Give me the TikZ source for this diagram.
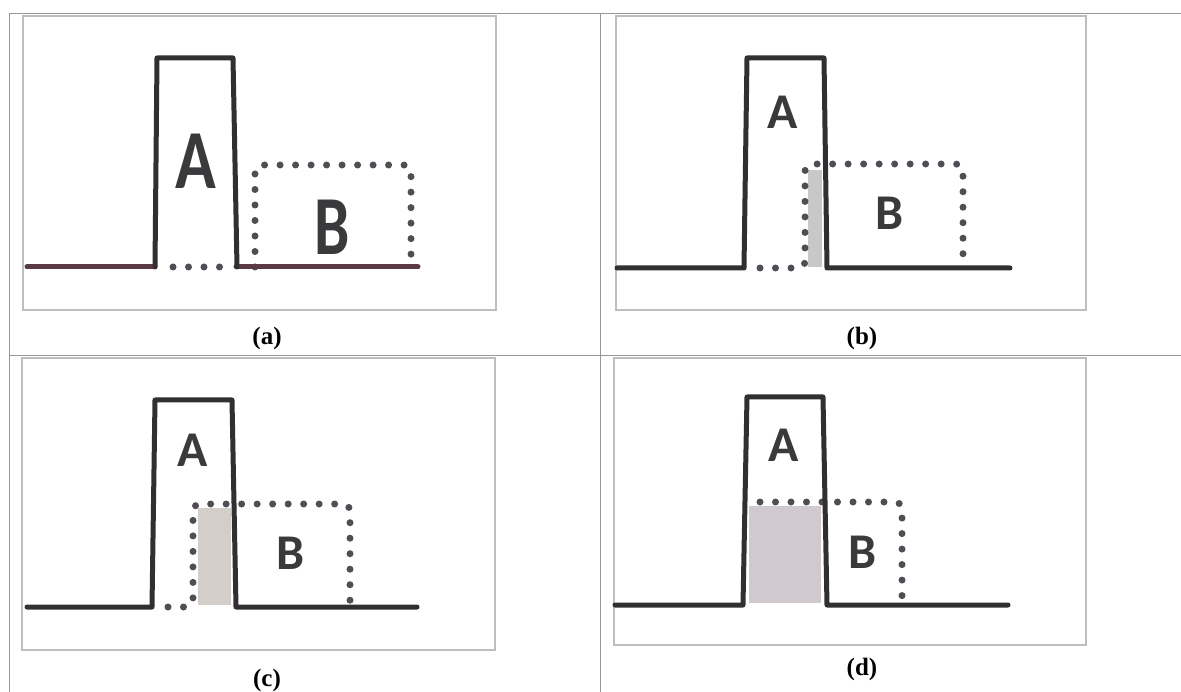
\documentclass[tikz,border=0pt]{standalone}
\usepackage{fontspec}
\setmainfont{Liberation Serif}
\newfontfamily\carlito{Carlito}
\definecolor{sigcol}{RGB}{48,48,50}
\definecolor{sigacol}{RGB}{92,58,68}
\definecolor{dotcol}{RGB}{78,78,84}
\definecolor{framecol}{RGB}{190,190,190}
\definecolor{gridcol}{RGB}{150,152,150}
\definecolor{lettercol}{RGB}{58,58,60}
\definecolor{shadeb}{RGB}{200,200,200}
\definecolor{shadec}{RGB}{212,206,202}
\definecolor{shaded}{RGB}{208,202,206}
\begin{document}
\begin{tikzpicture}[x=1pt,y=-1pt,
  sig/.style={line width=5pt, draw=sigcol, line join=round, line cap=round},
  dots/.style={line width=7pt, draw=dotcol, line cap=round, dash pattern=on 0pt off 15.5pt, rounded corners=7pt},
  frame/.style={draw=framecol, line width=1.3pt},
  grid/.style={draw=gridcol, line width=1pt},
  biglbl/.style={font=\carlito\bfseries\fontsize{84}{84}\selectfont, text=lettercol, inner sep=0pt},
  lbl/.style={font=\carlito\bfseries\fontsize{50}{50}\selectfont, text=lettercol, inner sep=0pt},
  captext/.style={font=\bfseries\fontsize{25}{25}\selectfont, inner sep=0pt}]
\useasboundingbox (0,0) rectangle (1181,692);
\fill[white] (0,0) rectangle (1181,692);
% table grid
\draw[grid] (9,14) -- (1181,14);
\draw[grid] (9,356) -- (1181,356);
\draw[grid] (9,14) -- (9,692);
\draw[grid] (600,14) -- (600,692);
% inner frames
\draw[frame] (23,16) rectangle (496,310);
\draw[frame] (616,16) rectangle (1086,310);
\draw[frame] (22,358) rectangle (495,650);
\draw[frame] (614,358) rectangle (1086,645);

% ---------- (a)
\draw[dots] (255,267) -- (255,165) -- (411,165) -- (411,267);
\draw[dots, rounded corners=0pt] (173,267) -- (230,267);
\draw[sig, draw=sigacol] (27,267) -- (155,267);
\draw[sig, draw=sigacol] (236,267) -- (418,267);
\draw[sig] (155,267) -- (157,58) -- (233,58) -- (237,267);
\node[biglbl] (la) at (196,161) {\scalebox{0.8}[1]{A}};
\node[biglbl] (lb) at (332,227) {\scalebox{0.75}[1]{B}};
\node[captext] (capa) at (267,338) {(a)};

% ---------- (b)
\fill[shadeb] (808,170) rectangle (822,267);
\draw[dots] (760,268) -- (805,268) -- (805,164) -- (963,164) -- (963,268);
\draw[sig] (617,268) -- (744,268) -- (747,58) -- (824,58) -- (827,268) -- (1010,268);
\node[lbl] (lab) at (783,112) {A};
\node[lbl] (lbb) at (890,213) {B};
\node[captext] (capb) at (862,338) {(b)};

% ---------- (c)
\fill[shadec] (198,508) rectangle (231,605);
\draw[dots] (168,607) -- (193,607) -- (193,504) -- (350,504) -- (350,607);
\draw[sig] (27,607) -- (152,607) -- (155,400) -- (232,400) -- (236,607) -- (417,607);
\node[lbl] (lac) at (193,450) {A};
\node[lbl] (lbc) at (291,553) {B};
\node[captext] (capc) at (267,680) {(c)};

% ---------- (d)
\fill[shaded] (749,506) rectangle (821,603);
\draw[dots] (760,502) -- (902,502) -- (902,605);
\draw[sig] (615,605) -- (743,605) -- (747,397) -- (823,397) -- (827,605) -- (1008,605);
\node[lbl] (lad) at (784,445) {A};
\node[lbl] (lbd) at (863,552) {B};
\node[captext] (capd) at (862,669) {(d)};
\end{tikzpicture}
\end{document}
